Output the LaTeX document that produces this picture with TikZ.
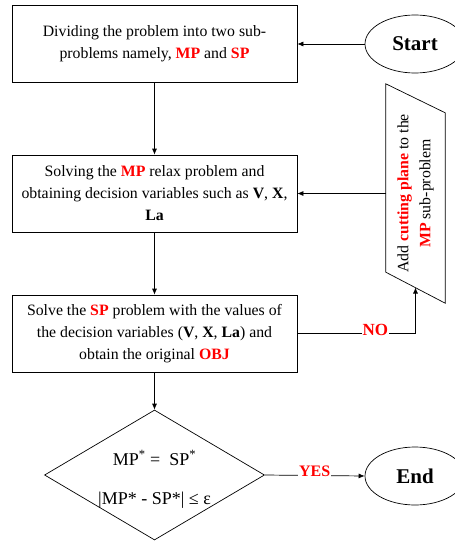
\documentclass[tikz,border=0pt]{standalone}
\usepackage{fontspec}
\setmainfont{Liberation Serif}
\usetikzlibrary{shapes.geometric,arrows.meta,calc}
\definecolor{rd}{RGB}{255,0,0}
\newcommand{\redb}[1]{\textcolor{rd}{\textbf{#1}}}
\begin{document}
\begin{tikzpicture}[x=1pt,y=-1pt,
  font=\fontsize{15.8}{22}\selectfont,
  box/.style={draw, line width=0.7pt, minimum width=285pt, minimum height=77pt, align=center, inner sep=0pt},
  term/.style={draw, ellipse, line width=0.7pt, minimum width=100pt, minimum height=58pt, font=\fontsize{21}{22}\selectfont\bfseries},
  arr/.style={-{Latex[length=6pt,width=5pt]}, line width=0.7pt},
  lbl/.style={fill=white, inner sep=1pt, text=rd, font=\fontsize{17}{18}\selectfont\bfseries, yshift=4pt}]
\useasboundingbox (0,0) rectangle (455,541);
\clip (0,0) rectangle (455,541);
\node[box] (b1) at (154.5,44) {Dividing the problem into two sub-\\problems namely, \redb{MP} and \redb{SP}};
\node[term] (start) at (415,44) {Start};
\node[box] (b2) at (154.5,193.5) {Solving the \redb{MP} relax problem and\\obtaining decision variables such as \textbf{V}, \textbf{X},\\\textbf{La}};
\node[box] (b3) at (154.5,333.5) {Solve the \redb{SP} problem with the values of\\the decision variables (\textbf{V}, \textbf{X}, \textbf{La}) and\\obtain the original \redb{OBJ}};
\node[draw, diamond, minimum width=220pt, minimum height=130pt, inner sep=0pt, line width=0.7pt] (dec) at (154.5,475) {};
\node[font=\fontsize{18}{20}\selectfont] (d1) at (154.5,458) {MP\textsuperscript{*} = \ SP\textsuperscript{*}};
\node[font=\fontsize{18}{20}\selectfont] (d2) at (154.5,500) {|MP* - SP*| ≤ ε};
\node[term] (end) at (415,476) {End};
\node[minimum width=59pt, minimum height=219pt, inner sep=0pt] (cut) at (415.5,193.5) {};
\draw[line width=0.7pt] (cut.north west) -- ($(cut.north east)+(0,29)$) -- (cut.south east) -- ($(cut.south west)+(0,-31)$) -- cycle;
\node[rotate=90, align=center] (cuttext) at (cut.center) {Add \redb{cutting plane} to the\\\redb{MP} sub-problem};
\coordinate (cutin) at (415.5,287.5);
\draw[arr] (start.west) -- (b1.east);
\draw[arr] (b1.south) -- (b2.north);
\draw[arr] (b2.south) -- (b3.north);
\draw[arr] (b3.south) -- (dec.north);
\draw[arr] (cut.west) -- (b2.east);
\draw[arr] (b3.east) -| node[lbl, pos=0.33] {NO} (cutin);
\draw[arr] (dec.east) -- node[lbl, font=\fontsize{16}{18}\selectfont\bfseries] {YES} (end.west);
\end{tikzpicture}
\end{document}
